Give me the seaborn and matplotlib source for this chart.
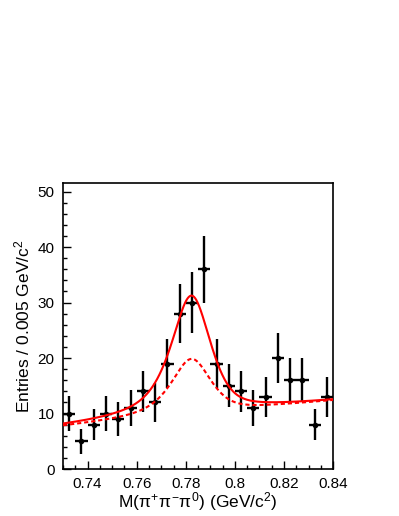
import numpy as np
import pandas as pd
import matplotlib
matplotlib.use('Agg')
import matplotlib.pyplot as plt
from matplotlib.ticker import MultipleLocator
import seaborn as sns

# binned data: bin centres (GeV/c^2) and entries per 0.005 GeV/c^2
bin_centres = [0.7325, 0.7375, 0.7425, 0.7475, 0.7525, 0.7575, 0.7625, 0.7675,
               0.7725, 0.7775, 0.7825, 0.7875, 0.7925, 0.7975, 0.8025, 0.8075,
               0.8125, 0.8175, 0.8225, 0.8275, 0.8325, 0.8375]
entries = [10, 5, 8, 10, 9, 11, 14, 12,
           19, 28, 30, 36, 19, 15, 14, 11,
           13, 20, 16, 16, 8, 13]
bin_half = 0.0025

# fit result: linear background + omega peak (bifurcated pseudo-Voigt)
bkg_pars = [7.6, 43.0]          # offset at 0.73, slope
peak_mass = 0.7822
peak_hwhm = [0.0100, 0.0092]    # left, right
peak_eta = [0.8, 0.5]           # lorentz fraction left, right
amp_total = 21.4                # solid curve
amp_dashed = 10.0               # dashed curve


def fit_curve(x, amp):
    left = x < peak_mass
    w = np.where(left, peak_hwhm[0], peak_hwhm[1])
    eta = np.where(left, peak_eta[0], peak_eta[1])
    d = (x - peak_mass) / w
    shape = eta / (1 + d**2) + (1 - eta) * np.exp(-np.log(2) * d**2)
    return bkg_pars[0] + bkg_pars[1] * (x - 0.73) + amp * shape


sns.set_theme(style='ticks')
plt.rcParams['font.family'] = ['Liberation Sans', 'DejaVu Sans']
plt.rcParams['mathtext.fontset'] = 'custom'
plt.rcParams['mathtext.rm'] = 'Liberation Sans'
plt.rcParams['mathtext.it'] = 'Liberation Sans'
plt.rcParams['text.color'] = 'black'
plt.rcParams['axes.labelcolor'] = 'black'
plt.rcParams['xtick.color'] = 'black'
plt.rcParams['ytick.color'] = 'black'

df = pd.DataFrame({'x': bin_centres, 'n': entries})
df['err'] = np.sqrt(df['n'])

xs = np.linspace(0.73, 0.84, 500)
curves = pd.DataFrame({'x': xs,
                       'total': fit_curve(xs, amp_total),
                       'dashed': fit_curve(xs, amp_dashed)})

fig = plt.figure(figsize=(3.99, 5.16), dpi=100)
ax = fig.add_axes([0.158, 0.091, 0.677, 0.554])

ax.errorbar(df['x'], df['n'], xerr=bin_half, yerr=df['err'], fmt='none',
            ecolor='black', elinewidth=1.7, capsize=0, zorder=2)
sns.scatterplot(data=df, x='x', y='n', color='black', s=16, linewidth=0,
                ax=ax, zorder=3)
sns.lineplot(data=curves, x='x', y='dashed', color='red', lw=1.5,
             linestyle=(0, (2, 1.4)), ax=ax, zorder=4)
sns.lineplot(data=curves, x='x', y='total', color='red', lw=1.5, ax=ax, zorder=4)

ax.set_xlim(0.73, 0.84)
ax.set_ylim(0, 51.5)
ax.xaxis.set_major_locator(MultipleLocator(0.02))
ax.xaxis.set_minor_locator(MultipleLocator(0.005))
ax.yaxis.set_major_locator(MultipleLocator(10))
ax.yaxis.set_minor_locator(MultipleLocator(2))
ax.set_xticks([0.74, 0.76, 0.78, 0.80, 0.82, 0.84])
ax.set_xticklabels(['0.74', '0.76', '0.78', '0.8', '0.82', '0.84'])
ax.tick_params(which='major', direction='in', length=6, width=1, labelsize=11,
               top=False, right=False, pad=6)
ax.tick_params(which='minor', direction='in', length=3, width=1,
               top=False, right=False)
for s in ax.spines.values():
    s.set_linewidth(1.2)
    s.set_color('black')
    s.set_visible(True)

ax.set_xlabel(r'M($\pi^{+}\pi^{-}\pi^{0}$) (GeV/c$^{2}$)', fontsize=12.5, labelpad=-1)
ax.set_ylabel(r'Entries / 0.005 GeV/c$^{2}$', fontsize=12.5, labelpad=4)

fig.savefig('out.png', dpi=100)
